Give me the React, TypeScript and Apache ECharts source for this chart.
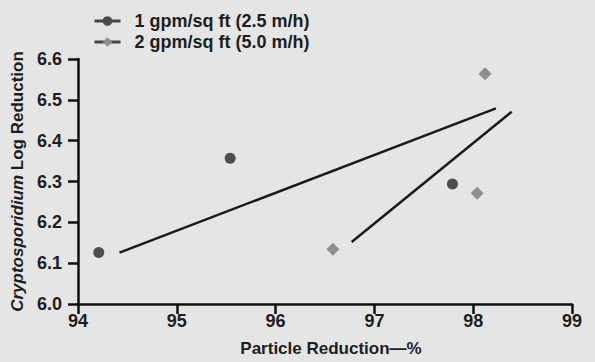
import React, { useEffect, useRef } from "react";
import * as echarts from "echarts";

const seriesNames = ["1 gpm/sq ft (2.5 m/h)", "2 gpm/sq ft (5.0 m/h)"];
const rate1Points: [number, number][] = [
  [94.21, 6.126],
  [95.54, 6.357],
  [97.79, 6.294],
];
const rate2Points: [number, number][] = [
  [96.58, 6.134],
  [98.04, 6.271],
  [98.12, 6.564],
];
const trend1: [number, number][] = [
  [94.42, 6.126],
  [98.23, 6.479],
];
const trend2: [number, number][] = [
  [96.77, 6.152],
  [98.39, 6.471],
];
const xTicks = { min: 94, max: 99, interval: 1 };
const yTicks = { min: 6.0, max: 6.6, interval: 0.1 };

const FONT = "'Liberation Sans', Arial, Helvetica, sans-serif";
const TEXT = "#1e1e1e";

export default function App() {
  const ref = useRef<HTMLDivElement>(null);
  useEffect(() => {
    if (!ref.current) return;
    const chart = echarts.init(ref.current, undefined, { renderer: "svg" });
    chart.setOption({
      animation: false,
      backgroundColor: "#e5e5e5",
      textStyle: { fontFamily: FONT },
      grid: { left: 78, right: 23, top: 59, bottom: 55, containLabel: false },
      legend: {
        orient: "vertical",
        left: 93,
        top: 12,
        padding: 0,
        itemWidth: 26,
        itemHeight: 12,
        itemGap: 3,
        data: seriesNames,
        textStyle: {
          fontFamily: FONT,
          fontWeight: "bold",
          fontSize: 18,
          color: TEXT,
          padding: [0, 0, 0, 9],
        },
        lineStyle: { color: "#444", width: 3, opacity: 1, type: "solid" },
      },
      xAxis: {
        type: "value",
        min: xTicks.min,
        max: xTicks.max,
        interval: xTicks.interval,
        name: "Particle Reduction\u2014%",
        nameLocation: "middle",
        nameGap: 36,
        nameTextStyle: {
          fontFamily: FONT,
          fontWeight: "bold",
          fontSize: 17,
          color: TEXT,
          padding: [0, 0, 0, 12],
        },
        axisLine: { show: true, lineStyle: { color: "#111", width: 2.5 } },
        axisTick: { show: true, length: 10, lineStyle: { color: "#111", width: 2.5 } },
        axisLabel: {
          margin: 8,
          fontFamily: FONT,
          fontWeight: "bold",
          fontSize: 18,
          color: TEXT,
        },
        splitLine: { show: false },
      },
      yAxis: {
        type: "value",
        min: yTicks.min,
        max: yTicks.max,
        interval: yTicks.interval,
        name: "{i|Cryptosporidium} Log Reduction",
        nameLocation: "middle",
        nameRotate: 90,
        nameGap: 51,
        nameTextStyle: {
          fontFamily: FONT,
          fontWeight: "bold",
          fontSize: 17,
          color: TEXT,
          rich: {
            i: {
              fontFamily: FONT,
              fontWeight: "bold",
              fontStyle: "italic",
              fontSize: 17,
              color: TEXT,
            },
          },
        },
        axisLine: { show: true, lineStyle: { color: "#111", width: 2.5 } },
        axisTick: { show: true, length: 10, lineStyle: { color: "#111", width: 2.5 } },
        axisLabel: {
          margin: 16,
          fontFamily: FONT,
          fontWeight: "bold",
          fontSize: 18,
          color: TEXT,
          formatter: (v: number) => v.toFixed(1),
        },
        splitLine: { show: false },
      },
      series: [
        {
          name: seriesNames[0],
          type: "line",
          data: rate1Points,
          symbol: "circle",
          symbolSize: 11,
          itemStyle: { color: "#4d4d4d" },
          lineStyle: { opacity: 0, color: "#444" },
          z: 3,
        },
        {
          name: seriesNames[1],
          type: "line",
          data: rate2Points,
          symbol: "diamond",
          symbolSize: 13,
          itemStyle: { color: "#8e8e8e" },
          lineStyle: { opacity: 0, color: "#555" },
          z: 3,
        },
        {
          name: "trend1",
          type: "line",
          data: trend1,
          symbol: "none",
          lineStyle: { color: "#1a1a1a", width: 2.5 },
          z: 2,
        },
        {
          name: "trend2",
          type: "line",
          data: trend2,
          symbol: "none",
          lineStyle: { color: "#1a1a1a", width: 2.5 },
          z: 2,
        },
      ],
    });
    return () => chart.dispose();
  }, []);
  return <div ref={ref} style={{ width: 595, height: 362, position: "absolute", left: 0, top: 0 }} />;
}
